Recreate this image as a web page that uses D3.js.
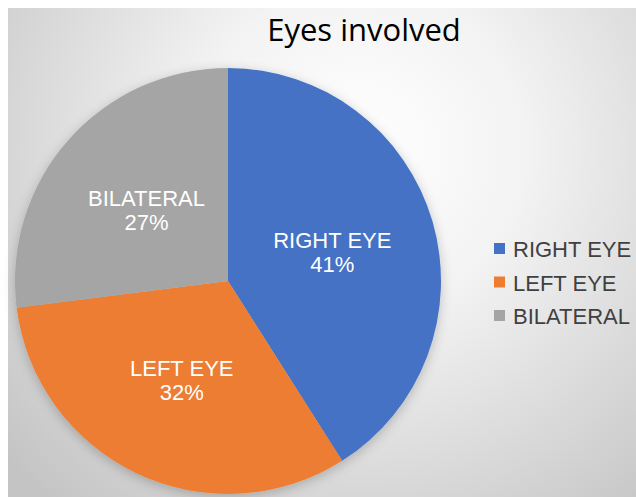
<!DOCTYPE html>
<html>
<head>
<meta charset="utf-8">
<script src="https://cdn.jsdelivr.net/npm/d3@7"></script>
<style>
  html, body { margin: 0; padding: 0; background: #ffffff; }
  svg { display: block; }
</style>
</head>
<body>
<svg id="chart" width="636" height="497"></svg>
<script>
const categories = ["RIGHT EYE", "LEFT EYE", "BILATERAL"];
const values = [41, 32, 27];
const percentLabels = ["41%", "32%", "27%"];
const colors = ["#4472C4", "#ED7D31", "#A5A5A5"];
const title = "Eyes involved";

const svg = d3.select("#chart");
const W = 636, H = 497;

const defs = svg.append("defs");
const grad = defs.append("radialGradient")
  .attr("id", "bg")
  .attr("gradientUnits", "userSpaceOnUse")
  .attr("cx", 360).attr("cy", 150).attr("r", 470)
  .attr("fx", 360).attr("fy", 150);
grad.append("stop").attr("offset", "0%").attr("stop-color", "#ffffff");
grad.append("stop").attr("offset", "35%").attr("stop-color", "#f3f3f3");
grad.append("stop").attr("offset", "100%").attr("stop-color", "#c4c4c4");

const shadow = defs.append("filter").attr("id", "shadow")
  .attr("x", "-20%").attr("y", "-20%").attr("width", "140%").attr("height", "140%");
shadow.append("feDropShadow")
  .attr("dx", 0).attr("dy", 3).attr("stdDeviation", 6)
  .attr("flood-color", "#000").attr("flood-opacity", 0.22);

svg.append("rect")
  .attr("x", 8).attr("y", 8).attr("width", W - 8).attr("height", H - 8)
  .attr("fill", "url(#bg)");

svg.append("text")
  .attr("x", 364).attr("y", 41)
  .attr("text-anchor", "middle")
  .attr("font-family", "'Open Sans', 'Noto Sans', sans-serif")
  .attr("font-size", 31)
  .attr("fill", "#000")
  .text(title);

const cx = 228, cy = 281, R = 213;
const data = categories.map((c, i) => ({ cat: c, value: values[i], pct: percentLabels[i], color: colors[i] }));

const pie = d3.pie().value(d => d.value).sort(null);
const arc = d3.arc().innerRadius(0).outerRadius(R);
const labelArc = d3.arc().innerRadius(R * 0.51).outerRadius(R * 0.51);

const g = svg.append("g").attr("transform", `translate(${cx},${cy})`);
const arcs = pie(data);

g.append("g").attr("filter", "url(#shadow)")
  .selectAll("path").data(arcs).join("path")
  .attr("d", arc)
  .attr("fill", d => d.data.color);

const labels = g.selectAll("text.lbl").data(arcs).join("text")
  .attr("class", "lbl")
  .attr("text-anchor", "middle")
  .attr("font-family", "'Liberation Sans', Arial, sans-serif")
  .attr("font-size", 22)
  .attr("fill", "#ffffff")
  .attr("transform", d => { const [x, y] = labelArc.centroid(d); return `translate(${x},${y})`; });
labels.append("tspan").attr("x", 0).attr("y", -3).text(d => d.data.cat);
labels.append("tspan").attr("x", 0).attr("y", 21).text(d => d.data.pct);

const legend = svg.append("g");
const ly = d3.scalePoint().domain(categories).range([249, 316]);
const items = legend.selectAll("g").data(data).join("g")
  .attr("transform", d => `translate(494,${ly(d.cat)})`);
items.append("rect")
  .attr("x", 0).attr("y", -6).attr("width", 11).attr("height", 11)
  .attr("fill", d => d.color);
items.append("text")
  .attr("x", 19).attr("y", 8)
  .attr("font-family", "'Liberation Sans', Arial, sans-serif")
  .attr("font-size", 22)
  .attr("fill", "#404040")
  .text(d => d.cat);
</script>
</body>
</html>
